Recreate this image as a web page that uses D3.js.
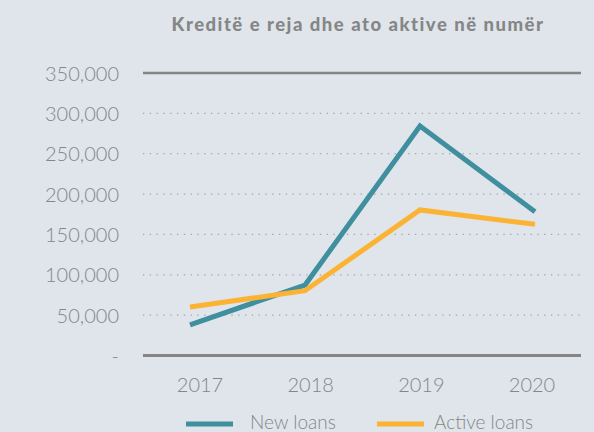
<!DOCTYPE html>
<html>
<head>
<meta charset="utf-8">
<script src="https://cdn.jsdelivr.net/npm/d3@7"></script>
<style>
  html, body { margin: 0; padding: 0; background: #dfe5eb; }
  svg { display: block; font-family: Lato, "Open Sans", sans-serif; }
</style>
</head>
<body>
<div id="chart"></div>
<script>
// chart data
const years = ["2017", "2018", "2019", "2020"];
const newLoans = [38000, 87300, 284300, 178200];
const activeLoans = [60100, 80300, 180300, 162500];
const yTicks = [0, 50000, 100000, 150000, 200000, 250000, 300000, 350000];
const seriesNames = ["New loans", "Active loans"];
const seriesColors = ["#3f8f9e", "#fcb334"];

const width = 594, height = 432;
const textColor = "#868686";

const svg = d3.select("#chart").append("svg").attr("width", width).attr("height", height);

const x = d3.scalePoint().domain(years).range([190, 535]);
const xLabel = d3.scalePoint().domain(years).range([200, 532]);
const y = d3.scaleLinear().domain([0, 350000]).range([355.5, 73]);
const fmt = d3.format(",");

// title
svg.append("text")
    .attr("x", 358)
    .attr("y", 31)
    .attr("text-anchor", "middle")
    .style("font-size", "18.5px")
    .style("font-weight", 900)
    .style("letter-spacing", "1.5px")
    .style("fill", textColor)
    .text("Kreditë e reja dhe ato aktive në numër");

// gridlines
svg.selectAll(".grid").data(yTicks).enter().append("line")
    .attr("x1", 143).attr("x2", 581)
    .attr("y1", d => y(d)).attr("y2", d => y(d))
    .attr("stroke", d => (d === 0 || d === 350000) ? "#858585" : "#a3a3a3")
    .attr("stroke-width", d => d === 0 ? 3 : d === 350000 ? 2.5 : 1.3)
    .attr("stroke-dasharray", d => (d === 0 || d === 350000) ? null : "1.3,5.5");

// y labels
svg.selectAll(".ylab").data(yTicks).enter().append("text")
    .attr("x", 119)
    .attr("y", d => y(d) + 7.5)
    .attr("text-anchor", "end")
    .style("font-size", "20px")
    .style("font-weight", 300)
    .style("fill", textColor)
    .text(d => d === 0 ? "-" : fmt(d));

// x labels
svg.selectAll(".xlab").data(years).enter().append("text")
    .attr("x", d => xLabel(d))
    .attr("y", 392)
    .attr("text-anchor", "middle")
    .style("font-size", "20px")
    .style("font-weight", 300)
    .style("fill", textColor)
    .text(d => d);

// lines
const line = d3.line().x(d => x(d.year)).y(d => y(d.value));
[newLoans, activeLoans].forEach((vals, i) => {
    const pts = years.map((yr, j) => ({ year: yr, value: vals[j] }));
    svg.append("path")
        .datum(pts)
        .attr("d", line)
        .attr("fill", "none")
        .attr("stroke", seriesColors[i])
        .attr("stroke-width", 5);
});

// legend
const legendX = [186, 377];
const legendTextX = [250, 434];
seriesNames.forEach((name, i) => {
    svg.append("line")
        .attr("x1", legendX[i]).attr("x2", legendX[i] + 47)
        .attr("y1", 424).attr("y2", 424)
        .attr("stroke", seriesColors[i])
        .attr("stroke-width", 5);
    svg.append("text")
        .attr("x", legendTextX[i])
        .attr("y", 429)
        .style("font-size", "19px")
        .style("font-weight", 300)
        .style("fill", textColor)
        .text(name);
});
</script>
</body>
</html>
